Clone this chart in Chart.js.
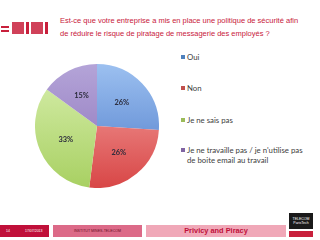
<!DOCTYPE html>
<html><head><meta charset="utf-8">
<script src="https://cdn.jsdelivr.net/npm/chart.js@4.4.0/dist/chart.umd.min.js"></script>
<style>
html,body{margin:0;padding:0;background:#fff;}
#root{position:relative;width:320px;height:240px;overflow:hidden;font-family:"Liberation Sans",Arial,sans-serif;}
#title{position:absolute;left:60px;top:14px;width:258px;font-size:7.5px;line-height:13px;color:#c8203c;white-space:nowrap;}
#logo{position:absolute;left:1px;top:22px;width:50px;height:12px;}
#logo div{position:absolute;background:#c8203c;}
#chartBox{position:absolute;left:35px;top:64px;width:124px;height:124px;}
#legend{position:absolute;left:181px;top:50px;width:140px;font-family:Lato,"Liberation Sans",sans-serif;font-size:7.8px;color:#404040;}
.li{position:absolute;left:0;white-space:nowrap;line-height:10px;}
.sw{position:absolute;left:0;top:3px;width:4px;height:4px;}
.tx{position:absolute;left:6px;top:0;}
.f1{position:absolute;left:0;top:225px;width:49px;height:12px;background:#c0103a;color:#fff;font-size:3.5px;line-height:12px;}
.f2{position:absolute;left:53px;top:225px;width:89px;height:12px;background:#dc6a88;color:#6a0f25;font-size:3.6px;line-height:12px;text-align:center;}
.f3{position:absolute;left:146px;top:225px;width:140px;height:12px;background:#f0a8b8;color:#c0103a;font-size:7.4px;font-weight:bold;line-height:12px;text-align:center;}
#tlogo{position:absolute;left:289px;top:213px;width:24px;height:25px;}
</style></head>
<body><div id="root">
<div id="logo">
 <div style="left:0;top:4px;width:8px;height:2px"></div>
 <div style="left:0;top:8px;width:8px;height:2px"></div>
 <div style="left:11px;top:0;width:12px;height:12px;opacity:.85"></div>
 <div style="left:25px;top:0;width:3px;height:12px"></div>
 <div style="left:30px;top:0;width:12px;height:12px;opacity:.85"></div>
 <div style="left:44px;top:0;width:3px;height:12px"></div>
</div>
<div id="title">Est-ce que votre entreprise a mis en place une politique de sécurité afin<br>de réduire le risque de piratage de messagerie des employés ?</div>
<div id="chartBox"><canvas id="c" width="124" height="124"></canvas></div>
<div id="legend"></div>
<div class="f1"><span style="position:absolute;left:6px">14</span><span style="position:absolute;left:25px">17/07/2013</span></div>
<div class="f2">INSTITUT MINES-TELECOM</div>
<div class="f3">Privicy and Piracy</div>
<div id="tlogo">
 <div style="position:absolute;left:0;top:0;width:24px;height:16px;background:#1a1a1a;color:#fff;font-size:3.5px;line-height:4px;text-align:center;padding-top:4px;box-sizing:border-box">TELECOM<br>ParisTech</div>
 <div style="position:absolute;left:0;top:18px;width:24px;height:6px;background:#c8203c"></div>
</div>
</div>
<script>
const categories = ["Oui", "Non", "Je ne sais pas", ["Je ne travaille pas / je n'utilise pas", "de boite email au travail"]];
const values = [26, 26, 33, 15];
const valueLabels = ["26%", "26%", "33%", "15%"];
const legendTops = [2, 33, 65, 95];

const topColors = ["#9cc0f0", "#f6a8a6", "#d8efae", "#b4a4d8"];
const botColors = ["#4a78c8", "#d84646", "#a8d062", "#8a70b8"];
const swatch = ["#4f81bd", "#c0504d", "#9bbb59", "#8064a2"];

const leg = document.getElementById('legend');
categories.forEach((c, i) => {
  const d = document.createElement('div'); d.className = 'li'; d.style.top = legendTops[i] + 'px';
  const s = document.createElement('div'); s.className = 'sw'; s.style.background = swatch[i];
  const t = document.createElement('div'); t.className = 'tx';
  (Array.isArray(c) ? c : [c]).forEach((line, k) => { if (k) t.appendChild(document.createElement('br')); t.appendChild(document.createTextNode(line)); });
  d.appendChild(s); d.appendChild(t); leg.appendChild(d);
});

const labelPlugin = {
  id: 'pctLabels',
  afterDatasetsDraw(chart) {
    const ctx = chart.ctx; const meta = chart.getDatasetMeta(0);
    ctx.save();
    ctx.font = 'bold 7.4px Lato, "Liberation Sans", sans-serif';
    ctx.fillStyle = '#2a2a3a'; ctx.textAlign = 'center'; ctx.textBaseline = 'middle';
    meta.data.forEach((arc, i) => {
      const p = arc.getProps(['x','y','startAngle','endAngle','outerRadius'], true);
      const a = (p.startAngle + p.endAngle) / 2;
      const r = p.outerRadius * 0.55;
      ctx.fillText(valueLabels[i], p.x + Math.cos(a) * r, p.y + Math.sin(a) * r);
    });
    ctx.restore();
  }
};

new Chart(document.getElementById('c'), {
  type: 'pie',
  data: {
    labels: categories.map(c => Array.isArray(c) ? c.join(' ') : c),
    datasets: [{
      data: values,
      borderWidth: 0,
      backgroundColor(ctx) {
        const ch = ctx.chart; const area = ch.chartArea; const i = ctx.dataIndex;
        if (!area) return botColors[i];
        const g = ch.ctx.createLinearGradient(0, area.top, 0, area.bottom);
        g.addColorStop(0, topColors[i]); g.addColorStop(1, botColors[i]);
        return g;
      }
    }]
  },
  options: {
    responsive: false, animation: false, devicePixelRatio: 1,
    layout: { padding: 0 },
    plugins: { legend: { display: false }, tooltip: { enabled: false } }
  },
  plugins: [labelPlugin]
});
</script>
</body></html>
